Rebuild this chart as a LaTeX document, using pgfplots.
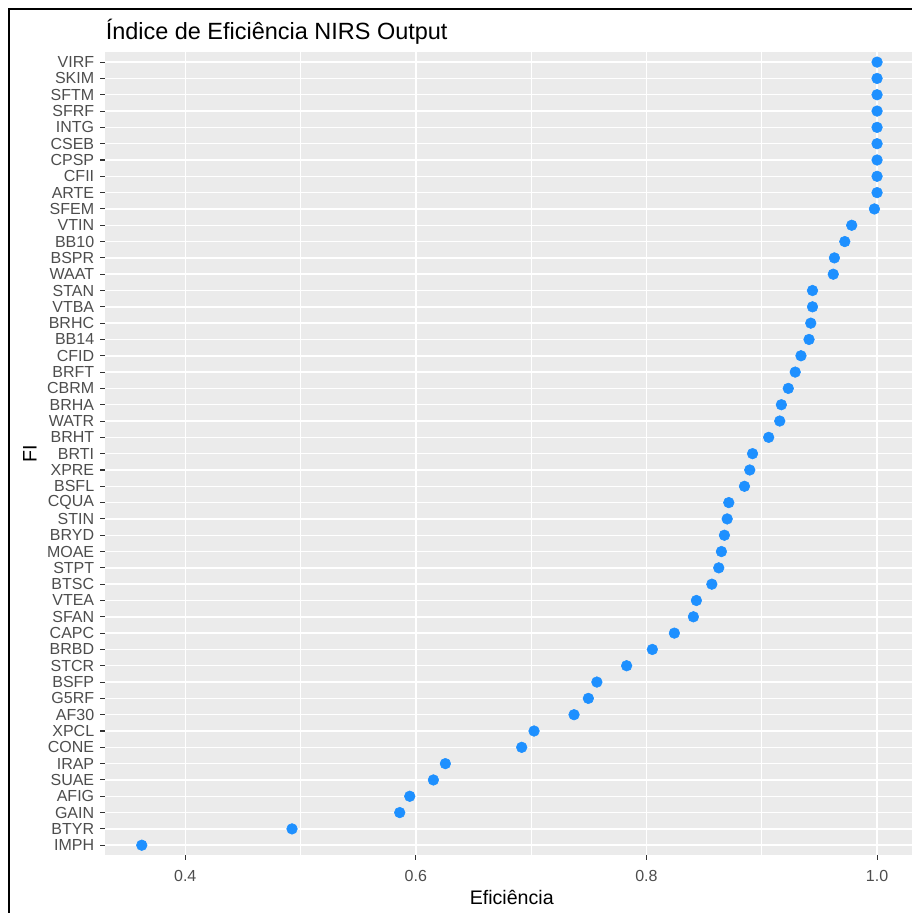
\documentclass[border=0pt]{standalone}
\usepackage{pgfplots}
\pgfplotsset{compat=1.18}
\usepackage{fontspec}
\setmainfont{Liberation Sans}
\definecolor{panel}{HTML}{EBEBEB}
\definecolor{dodger}{HTML}{1E90FF}
\definecolor{ticklab}{HTML}{4D4D4D}
\definecolor{tickmark}{HTML}{333333}

% eficiencia por FI, de baixo (1) para cima (49)
\pgfplotstableread{
y v
1 0.3623
2 0.4926
3 0.5860
4 0.5947
5 0.6152
6 0.6256
7 0.6918
8 0.7025
9 0.7372
10 0.7496
11 0.7570
12 0.7828
13 0.8051
14 0.8242
15 0.8407
16 0.8433
17 0.8567
18 0.8627
19 0.8650
20 0.8676
21 0.8700
22 0.8714
23 0.8850
24 0.8896
25 0.8920
26 0.9060
27 0.9156
28 0.9170
29 0.9230
30 0.9290
31 0.9340
32 0.9410
33 0.9425
34 0.9440
35 0.9440
36 0.9620
37 0.9630
38 0.9720
39 0.9780
40 0.9977
41 1.0000
42 1.0000
43 1.0000
44 1.0000
45 1.0000
46 1.0000
47 1.0000
48 1.0000
49 1.0000
}\eff

\begin{document}
\begin{tikzpicture}[x=0.75pt,y=0.75pt]
\useasboundingbox (0,0) rectangle (912,913);
\begin{axis}[
  at={(78.75pt,43.5pt)}, anchor=south west,
  scale only axis, width=605.25pt, height=602pt,
  xmin=0.3304, xmax=1.0303, ymin=0.4, ymax=49.6,
  axis background/.style={fill=panel},
  axis line style={draw=none},
  xtick={0.4,0.6,0.8,1.0}, xticklabels={0.4,0.6,0.8,1.0},
  minor xtick={0.5,0.7,0.9},
  ytick={1,...,49},
  yticklabels={IMPH,BTYR,GAIN,AFIG,SUAE,IRAP,CONE,XPCL,AF30,G5RF,BSFP,STCR,BRBD,CAPC,SFAN,VTEA,BTSC,STPT,MOAE,BRYD,STIN,CQUA,BSFL,XPRE,BRTI,BRHT,WATR,BRHA,CBRM,BRFT,CFID,BB14,BRHC,VTBA,STAN,WAAT,BSPR,BB10,VTIN,SFEM,ARTE,CFII,CPSP,CSEB,INTG,SFRF,SFTM,SKIM,VIRF},
  grid=both,
  major grid style={white, line width=1.1pt},
  minor grid style={white, line width=0.55pt},
  tick align=outside, xtick pos=bottom, ytick pos=left,
  major tick length=3.6pt, minor tick length=0pt,
  tick style={tickmark, line width=0.8pt},
  ticklabel style={font=\fontsize{12}{13}\selectfont, text=ticklab},
  xticklabel style={yshift=-4pt},
  yticklabel style={xshift=-1pt},
  xlabel={Eficiência}, ylabel={FI},
  label style={font=\fontsize{14.7}{16}\selectfont},
  xlabel style={at={(axis description cs:0.504,-0.0523)}, anchor=center},
  ylabel style={at={(axis description cs:-0.093,0.5)}, anchor=center},
]
\addplot[only marks, mark=*, mark size=4pt, mark options={draw=dodger, fill=dodger}]
  table[x=v, y=y]{\eff};
\end{axis}
\node[anchor=base west, inner sep=0, font=\fontsize{17.6}{20}\selectfont] at (105.5,873.7) {Índice de Eficiência NIRS Output};
\draw[line width=1.65pt] (9,0) -- (9,903.7) -- (913,903.7);
\end{tikzpicture}
\end{document}
